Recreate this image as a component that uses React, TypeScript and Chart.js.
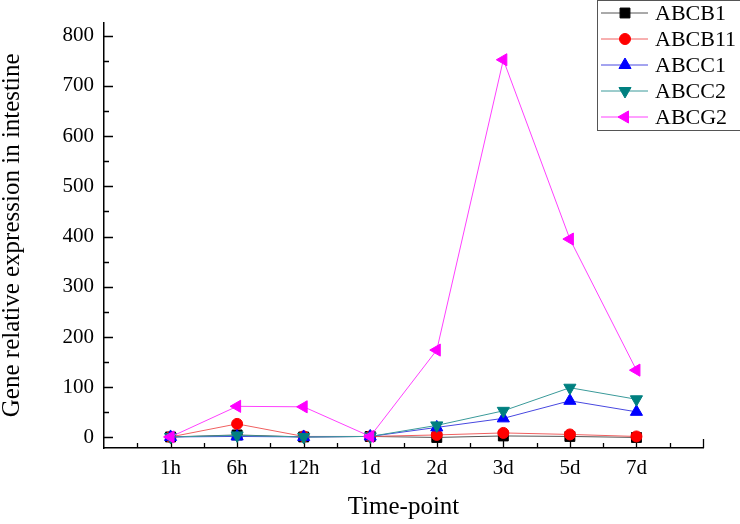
import { useEffect, useRef } from "react";
import { Chart, registerables } from "chart.js";
import { drawPoint } from "chart.js/helpers";

Chart.register(...registerables);

const timePoints = ["1h", "6h", "12h", "1d", "2d", "3d", "5d", "7d"];
const abcb1 = [1, 5, 1, 2, 0, 3, 2, 0];
const abcb11 = [1, 27, 2, 2, 5, 9, 6, 2];
const abcc1 = [1, 2, 1, 2, 20, 38, 73, 51];
const abcc2 = [1, 4, 1, 2, 24, 53, 99, 76];
const abcg2 = [1, 62, 61, 2, 174, 752, 395, 134];

const yTicks = [0, 50, 100, 150, 200, 250, 300, 350, 400, 450, 500, 550, 600, 650, 700, 750, 800];
const xTicks = [0.5, 1, 1.5, 2, 2.5, 3, 3.5, 4, 4.5, 5, 5.5, 6, 6.5, 7, 7.5, 8, 8.5, 9];

const FONT = "'Liberation Serif', 'Times New Roman', serif";

const series = [
  { label: "ABCB1", data: abcb1, color: "#000000", line: "#555555", style: "rect", radius: 7, rotation: 0 },
  { label: "ABCB11", data: abcb11, color: "#ff0000", line: "#f06060", style: "circle", radius: 5.5, rotation: 0 },
  { label: "ABCC1", data: abcc1, color: "#0000ff", line: "#4848e0", style: "triangle", radius: 7, rotation: 0 },
  { label: "ABCC2", data: abcc2, color: "#008080", line: "#3a9a9a", style: "triangle", radius: 7, rotation: 180 },
  { label: "ABCG2", data: abcg2, color: "#ff00ff", line: "#ff40ff", style: "triangle", radius: 7, rotation: -90 },
];

// inward tick marks like Origin draws them
const tickMarks = {
  id: "tickMarks",
  beforeDatasetsDraw(chart: any) {
    const { ctx, chartArea: a, scales } = chart;
    ctx.save();
    ctx.strokeStyle = "#000";
    ctx.lineWidth = 1.3;
    ctx.beginPath();
    yTicks.forEach((v) => {
      const py = Math.round(scales.y.getPixelForValue(v)) + 0.5;
      ctx.moveTo(a.left, py);
      ctx.lineTo(a.left + (v % 100 === 0 ? 9 : 5), py);
    });
    xTicks.forEach((v) => {
      const px = Math.round(scales.x.getPixelForValue(v)) + 0.5;
      ctx.moveTo(px, a.bottom);
      ctx.lineTo(px, a.bottom - (Number.isInteger(v) ? 9 : 5));
    });
    ctx.stroke();
    ctx.restore();
  },
};

const boxLegend = {
  id: "boxLegend",
  afterDraw(chart: any) {
    const { ctx } = chart;
    ctx.save();
    ctx.strokeStyle = "#555";
    ctx.lineWidth = 1;
    ctx.strokeRect(597.5, 0.5, 200, 130);
    ctx.font = `22px ${FONT}`;
    ctx.textBaseline = "middle";
    series.forEach((s, i) => {
      const y = 13 + i * 26;
      ctx.strokeStyle = s.line;
      ctx.beginPath();
      ctx.moveTo(601, y);
      ctx.lineTo(648, y);
      ctx.stroke();
      ctx.fillStyle = s.color;
      ctx.strokeStyle = s.color;
      drawPoint(ctx, { pointStyle: s.style, radius: s.radius, rotation: s.rotation, borderWidth: 1 }, 625, y);
      ctx.fillStyle = "#000";
      ctx.fillText(s.label, 655, y + 1);
    });
    ctx.restore();
  },
};

export default function App() {
  const canvasRef = useRef<HTMLCanvasElement>(null);
  const chartRef = useRef<Chart | null>(null);

  useEffect(() => {
    if (!canvasRef.current) return;
    chartRef.current?.destroy();
    chartRef.current = new Chart(canvasRef.current, {
      type: "line",
      data: {
        datasets: series.map((s, i) => ({
          label: s.label,
          data: s.data.map((v, j) => ({ x: j + 1, y: v })),
          borderColor: s.line,
          backgroundColor: s.color,
          pointBackgroundColor: s.color,
          pointBorderColor: s.color,
          pointStyle: s.style as any,
          pointRadius: s.radius,
          pointRotation: s.rotation,
          borderWidth: 1,
          tension: 0,
          order: series.length - i,
        })),
      },
      options: {
        animation: false,
        responsive: true,
        maintainAspectRatio: false,
        layout: { padding: { top: 11, right: 37, left: 0, bottom: 0 } },
        plugins: { legend: { display: false }, tooltip: { enabled: false } },
        scales: {
          x: {
            type: "linear",
            min: 0,
            max: 9,
            afterFit: (s: any) => {
              s.height = 76;
            },
            afterBuildTicks: (s: any) => {
              s.ticks = xTicks.map((v) => ({ value: v }));
            },
            grid: { display: false, drawTicks: false },
            border: { display: true, color: "#000", width: 1.5 },
            ticks: {
              autoSkip: false,
              maxRotation: 0,
              padding: 8,
              color: "#000",
              font: { family: FONT, size: 21 },
              callback: (v: any) => (Number.isInteger(v) && v >= 1 && v <= 8 ? timePoints[v - 1] : ""),
            },
            title: {
              display: true,
              text: "Time-point",
              color: "#000",
              font: { family: FONT, size: 25, lineHeight: 1 },
              padding: { top: 0, bottom: 4 },
            },
          },
          y: {
            type: "linear",
            min: -21,
            max: 826,
            afterFit: (s: any) => {
              s.width = 104;
            },
            afterBuildTicks: (s: any) => {
              s.ticks = yTicks.map((v) => ({ value: v }));
            },
            grid: { display: false, drawTicks: false },
            border: { display: true, color: "#000", width: 1.5 },
            ticks: {
              autoSkip: false,
              padding: 10,
              color: "#000",
              font: { family: FONT, size: 21 },
              callback: (v: any) => (v % 100 === 0 ? String(v) : ""),
            },
            title: {
              display: true,
              text: "Gene relative expression in intestine",
              color: "#000",
              font: { family: FONT, size: 25, lineHeight: 1 },
              padding: { top: 0, bottom: 0 },
            },
          },
        },
      },
      plugins: [tickMarks, boxLegend],
    });
    return () => chartRef.current?.destroy();
  }, []);

  return (
    <div style={{ position: "fixed", left: 0, top: 0, width: 740, height: 524, background: "#fff" }}>
      <canvas
        ref={canvasRef}
        role="img"
        aria-label="Line chart of gene relative expression in intestine over time points"
      />
    </div>
  );
}
